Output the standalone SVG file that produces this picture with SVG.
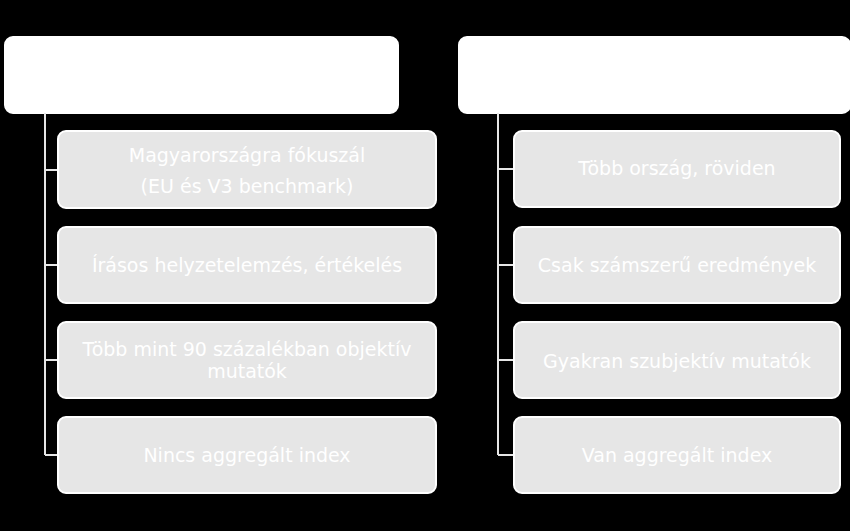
<svg xmlns="http://www.w3.org/2000/svg" width="850" height="531" viewBox="0 0 850 531">
<style>
.h{fill:#fff;stroke:#fff;stroke-width:2}
.b{fill:#e6e6e6;stroke:#fff;stroke-width:2}
.t{fill:#fff;font-family:"DejaVu Sans",sans-serif;font-size:19px;text-anchor:middle}
.c{stroke:#e6e6e6;stroke-width:2;fill:none}
</style>
<rect width="850" height="531" fill="#000"/>
<g id="hdrL"><rect class="h" x="5" y="37" width="393" height="76" rx="8"/></g>
<g id="hdrR"><rect class="h" x="459" y="37" width="391" height="76" rx="8"/></g>
<g id="connectors">
<path class="c" d="M45 113V455M45 170H58M45 265H58M45 360H58M45 455H58"/>
<path class="c" d="M498 113V455M498 169H514M498 265H514M498 360H514M498 455H514"/>
</g>
<g id="l1"><rect class="b" x="58" y="131" width="378" height="77" rx="8"/><text class="t" x="247" y="162">Magyarországra fókuszál</text><text class="t" x="247" y="193">(EU és V3 benchmark)</text></g>
<g id="l2"><rect class="b" x="58" y="227" width="378" height="76" rx="8"/><text class="t" x="247" y="272">Írásos helyzetelemzés, értékelés</text></g>
<g id="l3"><rect class="b" x="58" y="322" width="378" height="76" rx="8"/><text class="t" x="247" y="356">Több mint 90 százalékban objektív</text><text class="t" x="247" y="378">mutatók</text></g>
<g id="l4"><rect class="b" x="58" y="417" width="378" height="76" rx="8"/><text class="t" x="247" y="462">Nincs aggregált index</text></g>
<g id="r1"><rect class="b" x="514" y="131" width="326" height="76" rx="8"/><text class="t" x="677" y="175">Több ország, röviden</text></g>
<g id="r2"><rect class="b" x="514" y="227" width="326" height="76" rx="8"/><text class="t" x="677" y="272">Csak számszerű eredmények</text></g>
<g id="r3"><rect class="b" x="514" y="322" width="326" height="76" rx="8"/><text class="t" x="677" y="368">Gyakran szubjektív mutatók</text></g>
<g id="r4"><rect class="b" x="514" y="417" width="326" height="76" rx="8"/><text class="t" x="677" y="462">Van aggregált index</text></g>
</svg>
